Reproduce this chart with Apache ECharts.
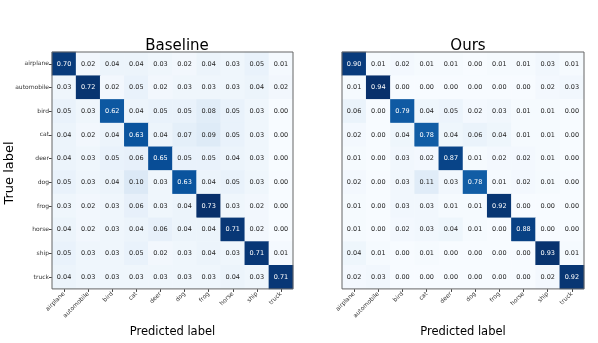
<!DOCTYPE html>
<html>
<head>
<meta charset="utf-8">
<script src="https://cdn.jsdelivr.net/npm/echarts@6/dist/echarts.min.js"></script>
<style>
  html, body { margin: 0; padding: 0; background: #fff; }
  #main { width: 598px; height: 343px; }
</style>
</head>
<body>
<div id="main"></div>
<script>
// CIFAR-10 classes
var classes = ['airplane', 'automobile', 'bird', 'cat', 'deer', 'dog', 'frog', 'horse', 'ship', 'truck'];

// rows = true label, columns = predicted label
var baseline = [
    [0.70, 0.02, 0.04, 0.04, 0.03, 0.02, 0.04, 0.03, 0.05, 0.01],
    [0.03, 0.72, 0.02, 0.05, 0.02, 0.03, 0.03, 0.03, 0.04, 0.02],
    [0.05, 0.03, 0.62, 0.04, 0.05, 0.05, 0.08, 0.05, 0.03, 0.00],
    [0.04, 0.02, 0.04, 0.63, 0.04, 0.07, 0.09, 0.05, 0.03, 0.00],
    [0.04, 0.03, 0.05, 0.06, 0.65, 0.05, 0.05, 0.04, 0.03, 0.00],
    [0.05, 0.03, 0.04, 0.10, 0.03, 0.63, 0.04, 0.05, 0.03, 0.00],
    [0.03, 0.02, 0.03, 0.06, 0.03, 0.04, 0.73, 0.03, 0.02, 0.00],
    [0.04, 0.02, 0.03, 0.04, 0.06, 0.04, 0.04, 0.71, 0.02, 0.00],
    [0.05, 0.03, 0.03, 0.05, 0.02, 0.03, 0.04, 0.03, 0.71, 0.01],
    [0.04, 0.03, 0.03, 0.03, 0.03, 0.03, 0.03, 0.04, 0.03, 0.71]
];
var ours = [
    [0.90, 0.01, 0.02, 0.01, 0.01, 0.00, 0.01, 0.01, 0.03, 0.01],
    [0.01, 0.94, 0.00, 0.00, 0.00, 0.00, 0.00, 0.00, 0.02, 0.03],
    [0.06, 0.00, 0.79, 0.04, 0.05, 0.02, 0.03, 0.01, 0.01, 0.00],
    [0.02, 0.00, 0.04, 0.78, 0.04, 0.06, 0.04, 0.01, 0.01, 0.00],
    [0.01, 0.00, 0.03, 0.02, 0.87, 0.01, 0.02, 0.02, 0.01, 0.00],
    [0.02, 0.00, 0.03, 0.11, 0.03, 0.78, 0.01, 0.02, 0.01, 0.00],
    [0.01, 0.00, 0.03, 0.03, 0.01, 0.01, 0.92, 0.00, 0.00, 0.00],
    [0.01, 0.00, 0.02, 0.03, 0.04, 0.01, 0.00, 0.88, 0.00, 0.00],
    [0.04, 0.01, 0.00, 0.01, 0.00, 0.00, 0.00, 0.00, 0.93, 0.01],
    [0.02, 0.03, 0.00, 0.00, 0.00, 0.00, 0.00, 0.00, 0.02, 0.92]
];

// matplotlib "Blues"
var blues = ['#f7fbff', '#deebf7', '#c6dbef', '#9ecae1', '#6baed6', '#4292c6', '#2171b5', '#08519c', '#08306b'];
var font = 'DejaVu Sans';

function maxOf(m) {
    return Math.max.apply(null, m.map(function (r) { return Math.max.apply(null, r); }));
}
function cells(m) {
    var mx = maxOf(m);
    var out = [];
    m.forEach(function (row, i) {
        row.forEach(function (v, j) {
            out.push({
                value: [j, i, v],
                label: {color: v > mx / 2 ? '#fff' : '#262626'}
            });
        });
    });
    return out;
}

var myChart = echarts.init(document.getElementById('main'));

function xAx(idx) {
    return {
        type: 'category', gridIndex: idx, data: classes, position: 'bottom',
        name: 'Predicted label', nameLocation: 'middle', nameGap: 31,
        nameTextStyle: {fontFamily: font, fontSize: 11.5, color: '#000'},
        axisLine: {show: false},
        axisTick: {show: true, alignWithLabel: true, length: 3, lineStyle: {color: '#444'}},
        axisLabel: {interval: 0, rotate: 45, fontSize: 6, fontFamily: font, color: '#333', margin: 4},
        splitLine: {show: false}
    };
}
function yAx(idx, labels) {
    return {
        type: 'category', gridIndex: idx, data: classes, inverse: true,
        axisLine: {show: false},
        axisTick: {show: labels, alignWithLabel: true, length: 3, lineStyle: {color: '#444'}},
        axisLabel: {show: labels, interval: 0, fontSize: 6, fontFamily: font, color: '#333', margin: 3},
        splitLine: {show: false}
    };
}
function hm(idx, m) {
    return {
        type: 'heatmap', xAxisIndex: idx, yAxisIndex: idx,
        data: cells(m),
        label: {
            show: true, fontSize: 6.5, fontFamily: font,
            formatter: function (p) { return p.value[2].toFixed(2); }
        },
        emphasis: {disabled: true}
    };
}

option = {
    backgroundColor: '#fff',
    animation: false,
    title: [
        {text: 'Baseline', left: 172, top: 34, textAlign: 'center',
            textStyle: {fontFamily: font, fontSize: 15, fontWeight: 'normal', color: '#000'}},
        {text: 'Ours', left: 463, top: 34, textAlign: 'center',
            textStyle: {fontFamily: font, fontSize: 15, fontWeight: 'normal', color: '#000'}}
    ],
    graphic: [{
        type: 'text', x: 3, y: 173, rotation: Math.PI / 2,
        style: {text: 'True label', font: '13px "DejaVu Sans"', fill: '#000',
            textAlign: 'center', textVerticalAlign: 'top'}
    }],
    grid: [
        {left: 52, top: 52, width: 241, height: 242, show: true, z: 10, borderColor: '#666', borderWidth: 1, backgroundColor: 'transparent'},
        {left: 342, top: 52, width: 242, height: 242, show: true, z: 10, borderColor: '#666', borderWidth: 1, backgroundColor: 'transparent'}
    ],
    xAxis: [xAx(0), xAx(1)],
    yAxis: [yAx(0, true), yAx(1, false)],
    visualMap: [
        {type: 'continuous', seriesIndex: 0, min: 0, max: maxOf(baseline), show: false, dimension: 2, inRange: {color: blues}},
        {type: 'continuous', seriesIndex: 1, min: 0, max: maxOf(ours), show: false, dimension: 2, inRange: {color: blues}}
    ],
    series: [hm(0, baseline), hm(1, ours)]
};

myChart.setOption(option);
</script>
</body>
</html>
